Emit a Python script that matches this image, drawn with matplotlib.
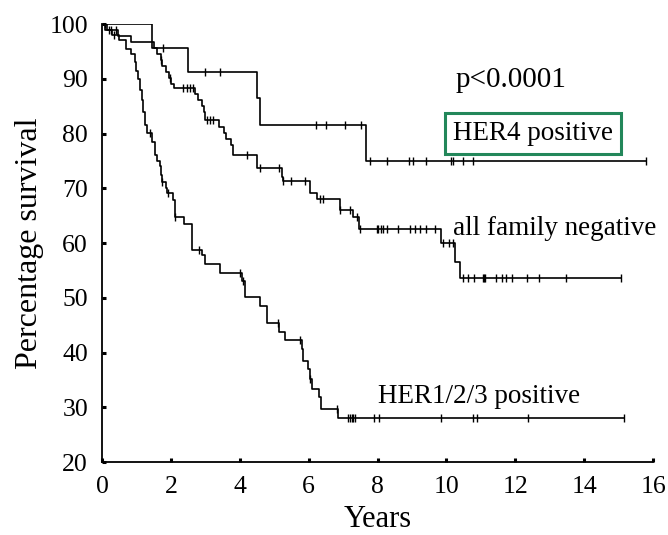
import numpy as np
import matplotlib
matplotlib.use("Agg")
import matplotlib.pyplot as plt

plt.rcParams['font.family'] = ['Liberation Serif', 'DejaVu Serif']

# HER4 positive: step times and survival levels (%)
her4_t = [0, 1.45, 2.49, 4.5, 4.6, 7.67, 15.78]
her4_s = [100, 95.6, 91.2, 86.5, 81.6, 75.0, 75.0]
her4_cens = [1.77, 3.0, 3.43, 6.2, 6.5, 7.06, 7.53,
             7.79, 8.28, 8.9, 9.04, 9.42, 10.12, 10.2, 10.47, 10.78, 15.78]

# all family negative
afn_t = [0, 0.15, 0.45, 0.85, 1.5, 1.6, 1.7, 1.75, 1.85, 1.95, 2.0, 2.1,
         2.7, 2.8, 2.9, 2.95, 3.0, 3.4, 3.55, 3.6, 3.75, 3.8, 4.5, 5.23, 5.25,
         6.05, 6.25, 6.9, 7.3, 7.45, 9.83, 10.26, 10.4, 15.06]
afn_s = [100, 98.9, 97.8, 96.7, 95.6, 94.5, 93.4, 92.3, 91.2, 90.1, 89.0, 88.3,
         87.2, 86.1, 85.0, 83.9, 82.5, 81.2, 80.1, 79.0, 77.9, 76.1, 73.8, 72.1, 71.4,
         69.2, 68.0, 66.1, 64.7, 62.5, 60.1, 56.6, 53.7, 53.7]
afn_cens = [0.1, 0.25, 0.4, 1.71, 1.98, 2.35, 2.47, 2.56, 2.65, 3.05, 3.14, 3.23,
            4.2, 4.59, 5.15, 5.25, 5.49, 5.9, 6.34, 6.42, 6.9, 7.2, 7.4,
            7.5, 7.97, 8.02, 8.1, 8.17, 8.28, 8.58, 8.95, 9.1, 9.24, 9.42, 9.68,
            9.9, 10.06, 10.2, 10.49, 10.64, 10.79, 11.05, 11.08, 11.13, 11.45,
            11.6, 11.72, 11.89, 12.33, 12.7, 13.46, 15.06]

# HER1/2/3 positive
her123_t = [0, 0.1, 0.3, 0.5, 0.7, 0.85, 0.95, 1.0, 1.05, 1.1, 1.15, 1.2, 1.25,
            1.3, 1.45, 1.54, 1.6, 1.69, 1.72, 1.74, 1.85, 1.9, 2.07, 2.12, 2.38,
            2.6, 2.9, 3.0, 3.43, 4.05, 4.16, 4.59, 4.8, 5.15, 5.3, 5.8, 5.85,
            5.98, 6.05, 6.1, 6.3, 6.35, 6.86, 15.15]
her123_s = [100, 99, 98, 97, 95.5, 94.5, 93, 91.5, 90, 88, 86.2, 84, 81.5,
            80.1, 78.5, 76.1, 75, 74, 72.5, 71.2, 70, 69.2, 67.9, 64.8, 63.4,
            58.8, 57.9, 56.1, 54.6, 53.0, 50.1, 48.5, 45.4, 43.7, 42.3, 40.6, 38.4,
            37, 35.2, 33.3, 31.9, 29.7, 28.0, 28.0]
her123_cens = [0.2, 0.35, 1.4, 1.74, 1.92, 2.12, 2.82, 4.0, 4.1, 5.1, 5.76, 6.05,
               6.83, 7.15, 7.21, 7.27, 7.3, 7.35, 7.91, 8.05, 9.83, 10.78, 10.9,
               12.38, 15.15]


def level_at(t, s, times):
    idx = np.searchsorted(t, times, side='right') - 1
    return np.asarray(s)[idx]


fig = plt.figure(figsize=(6.68, 5.35), dpi=100)
ax = fig.add_axes([0.1527, 0.1364, 0.825, 0.8186])

for t, s, c in [(her4_t, her4_s, her4_cens),
                (afn_t, afn_s, afn_cens),
                (her123_t, her123_s, her123_cens)]:
    ax.step(t, s, where='post', color='black', lw=1.2)
    ax.plot(c, level_at(t, s, c), ls='none', marker='|', ms=6, mew=1.0, color='black')

ax.set_xlim(0, 16)
ax.set_ylim(20, 100)
ax.set_xticks(range(0, 17, 2))
ax.set_yticks(range(20, 101, 10))
ax.spines['top'].set_visible(False)
ax.spines['right'].set_visible(False)
ax.spines['left'].set_linewidth(1.3)
ax.spines['bottom'].set_linewidth(1.3)
ax.tick_params(direction='in', length=3, width=2.2, labelsize=18.5)
ax.tick_params(axis='x', pad=10)
ax.tick_params(axis='y', pad=10)

ax.set_xlabel('Years', fontsize=22, labelpad=5)
ax.set_ylabel('Percentage survival', fontsize=23, labelpad=4)

ax.text(10.26, 89.8, 'p<0.0001', fontsize=21, va='center')
ax.text(10.18, 80.0, 'HER4 positive', fontsize=19.5, va='center',
        bbox=dict(boxstyle='square,pad=0.3', fc='white', ec='#23875a', lw=2.2))
ax.text(10.2, 62.7, 'all family negative', fontsize=19.5, va='center')
ax.text(8.02, 31.9, 'HER1/2/3 positive', fontsize=19.5, va='center')

fig.savefig('out.png', dpi=100)
